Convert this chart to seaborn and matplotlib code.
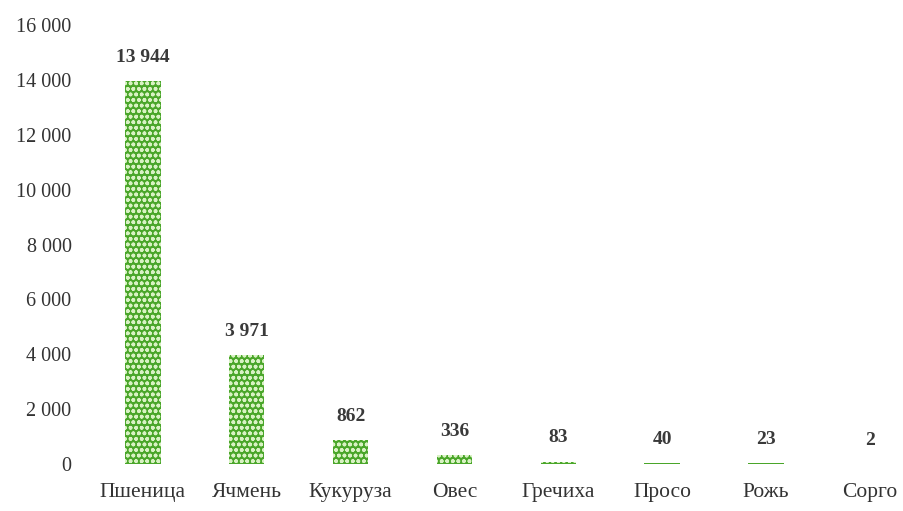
import matplotlib
matplotlib.use("Agg")
import matplotlib.pyplot as plt
import seaborn as sns
import pandas as pd

crops = ["Пшеница", "Ячмень", "Кукуруза", "Овес", "Гречиха", "Просо", "Рожь", "Сорго"]
harvest = [13944, 3971, 862, 336, 83, 40, 23, 2]
y_ticks = [0, 2000, 4000, 6000, 8000, 10000, 12000, 14000, 16000]

sns.set_theme(style="white")
plt.rcParams["font.family"] = ["Liberation Serif", "DejaVu Serif"]
plt.rcParams["hatch.linewidth"] = 1.1

df = pd.DataFrame({"crop": crops, "value": harvest})

fig = plt.figure(figsize=(9.04, 5.11), dpi=100)
ax = fig.add_axes([91 / 904, 47 / 511, 813 / 904, 439 / 511])

sns.barplot(data=df, x="crop", y="value", ax=ax, width=0.34,
            color="#4aa62a", saturation=1, linewidth=0)
for p in ax.patches:
    p.set_hatch("ooo")
    p.set_edgecolor("#d9f2c4")
    p.set_linewidth(0)

for i, v in enumerate(harvest):
    label = f"{v:,}".replace(",", " ")
    ax.annotate(label, (i, v), xytext=(0, 11), textcoords="offset points",
                ha="center", va="bottom", fontsize=14, fontweight="bold",
                color="#3a3a3a")

ax.set_xlim(-0.5, 7.33)
ax.set_ylim(0, 16000)
ax.set_yticks(y_ticks)
ax.set_yticklabels([f"{t:,}".replace(",", " ") for t in y_ticks])
ax.set_xlabel("")
ax.set_ylabel("")
ax.tick_params(axis="both", length=0, colors="#333333")
ax.tick_params(axis="y", labelsize=14.5, pad=14)
ax.tick_params(axis="x", labelsize=15.5, pad=14)
for s in ax.spines.values():
    s.set_visible(False)
ax.grid(False)

fig.savefig("out.png", dpi=100)
